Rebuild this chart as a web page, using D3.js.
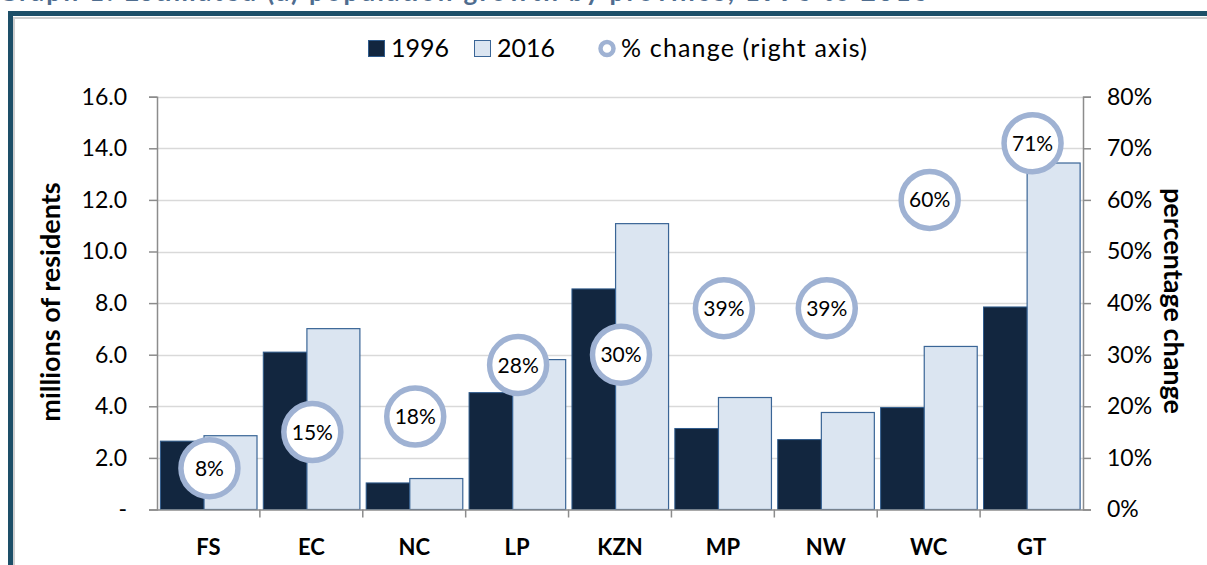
<!DOCTYPE html>
<html>
<head>
<meta charset="utf-8">
<script src="https://cdn.jsdelivr.net/npm/d3@7"></script>
<style>
  body { margin: 0; background: #fff; }
  svg { display: block; font-family: Lato, "Open Sans", sans-serif; }
</style>
</head>
<body>
<svg width="1207" height="565" id="mainsvg"></svg>
<script>
// data
const provinces = ['FS', 'EC', 'NC', 'LP', 'KZN', 'MP', 'NW', 'WC', 'GT'];
const pop1996 = [2.65, 6.10, 1.03, 4.53, 8.55, 3.14, 2.71, 3.95, 7.85];
const pop2016 = [2.86, 7.01, 1.20, 5.81, 11.08, 4.34, 3.76, 6.32, 13.43];
const pctChange = [8, 15, 18, 28, 30, 39, 39, 60, 71];
const leftTicks = [0, 2, 4, 6, 8, 10, 12, 14, 16];
const rightTicks = [0, 10, 20, 30, 40, 50, 60, 70, 80];

const svg = d3.select('svg');
const plotL = 157, plotR = 1083, plotT = 96.7, plotB = 509.5;

const x = d3.scaleBand().domain(provinces).range([plotL, plotR]).padding(0);
const y = d3.scaleLinear().domain([0, 16]).range([plotB, plotT]);
const yr = d3.scaleLinear().domain([0, 80]).range([plotB, plotT]);
const bw = x.bandwidth();

// title (cut at the top of the picture, as in the source)
svg.append('text').attr('x', -2).attr('y', 1)
  .attr('font-size', 26).attr('font-weight', 'bold').attr('fill', '#4f6d8f')
  .attr('textLength', 930).attr('lengthAdjust', 'spacing')
  .text('Graph 1: Estimated (a) population growth by province, 1996 to 2016');

// frame
svg.append('path').attr('d', 'M14,1000 V18 H1300').attr('fill', 'none')
  .attr('stroke', '#cfcfcf').attr('stroke-width', 2);
svg.append('path').attr('d', 'M10.5,1000 V13.5 H1300').attr('fill', 'none')
  .attr('stroke', '#1d4f68').attr('stroke-width', 5);

// gridlines
svg.append('g').selectAll('line').data(leftTicks.slice(1)).join('line')
  .attr('x1', plotL).attr('x2', plotR)
  .attr('y1', d => Math.round(y(d)) + 0.5).attr('y2', d => Math.round(y(d)) + 0.5)
  .attr('stroke', '#d9d9d9').attr('stroke-width', 1.5);

// bars
const bars = svg.append('g');
bars.selectAll('.b96').data(provinces).join('rect').attr('class', 'b96')
  .attr('x', d => x(d) + bw * 0.033)
  .attr('width', bw * 0.515)
  .attr('y', (d, i) => y(pop1996[i]))
  .attr('height', (d, i) => plotB - y(pop1996[i]))
  .attr('fill', '#12263f').attr('stroke', '#2f5b8c').attr('stroke-width', 1);
bars.selectAll('.b16').data(provinces).join('rect').attr('class', 'b16')
  .attr('x', d => x(d) + bw * 0.457)
  .attr('width', bw * 0.515)
  .attr('y', (d, i) => y(pop2016[i]))
  .attr('height', (d, i) => plotB - y(pop2016[i]))
  .attr('fill', '#dbe5f1').attr('stroke', '#3a6596').attr('stroke-width', 1.2);

// axes
const axisCol = '#8c8c8c';
const leftAxis = svg.append('g').attr('transform', `translate(${plotL},0)`)
  .call(d3.axisLeft(y).tickValues(leftTicks).tickSize(8).tickPadding(22)
    .tickFormat(d => d === 0 ? '-' : d3.format('.1f')(d)));
const rightAxis = svg.append('g').attr('transform', `translate(${plotR},0)`)
  .call(d3.axisRight(yr).tickValues(rightTicks).tickSize(8).tickPadding(16)
    .tickFormat(d => d + '%'));
const bottomAxis = svg.append('g').attr('transform', `translate(0,${plotB})`)
  .call(d3.axisBottom(x).tickSize(0).tickPadding(30));
[leftAxis, rightAxis, bottomAxis].forEach(a => {
  a.select('.domain').attr('stroke', axisCol).attr('stroke-width', 1.5);
  a.selectAll('.tick line').attr('stroke', axisCol).attr('stroke-width', 1.5);
  a.selectAll('text').attr('fill', '#000').attr('font-family', 'Lato, sans-serif');
});
leftAxis.selectAll('text').attr('font-size', 23);
rightAxis.selectAll('text').attr('font-size', 23);
bottomAxis.selectAll('text').attr('font-size', 22).attr('font-weight', 'bold');
bottomAxis.select('.domain').attr('d', `M${plotL},0.5H${plotR}`);
// category separators
svg.append('g').selectAll('line').data(provinces.slice(1)).join('line')
  .attr('x1', d => x(d)).attr('x2', d => x(d))
  .attr('y1', plotB).attr('y2', plotB + 8)
  .attr('stroke', axisCol).attr('stroke-width', 1.5);

// % change bubbles
const bub = svg.append('g').selectAll('g').data(provinces).join('g')
  .attr('transform', (d, i) => `translate(${x(d) + bw / 2 + 1},${yr(pctChange[i])})`);
bub.append('circle').attr('r', 28.5).attr('fill', '#fff')
  .attr('stroke', '#9fb2d3').attr('stroke-width', 5.5);
bub.append('text').attr('text-anchor', 'middle').attr('dy', '0.36em')
  .attr('font-size', 21).attr('fill', '#000')
  .text((d, i) => pctChange[i] + '%');

// axis titles
svg.append('text').attr('transform', 'translate(60,302) rotate(-90)')
  .attr('text-anchor', 'middle').attr('font-size', 27).attr('font-weight', 'bold')
  .text('millions of residents');
svg.append('text').attr('transform', 'translate(1164,301) rotate(90)')
  .attr('text-anchor', 'middle').attr('font-size', 27).attr('font-weight', 'bold')
  .text('percentage change');

// legend
const leg = svg.append('g').attr('font-size', 25);
leg.append('rect').attr('x', 368.5).attr('y', 40.5).attr('width', 16).attr('height', 16)
  .attr('fill', '#12263f').attr('stroke', '#2f5b8c');
leg.append('text').attr('x', 391).attr('y', 57).text('1996');
leg.append('rect').attr('x', 474.5).attr('y', 40.5).attr('width', 16).attr('height', 16)
  .attr('fill', '#dbe5f1').attr('stroke', '#3a6596');
leg.append('text').attr('x', 497).attr('y', 57).text('2016');
leg.append('circle').attr('cx', 607).attr('cy', 48.5).attr('r', 6.5)
  .attr('fill', '#fff').attr('stroke', '#9fb2d3').attr('stroke-width', 4.5);
leg.append('text').attr('x', 621).attr('y', 57)
  .attr('textLength', 246).attr('lengthAdjust', 'spacing')
  .text('% change (right axis)');
</script>
</body>
</html>
